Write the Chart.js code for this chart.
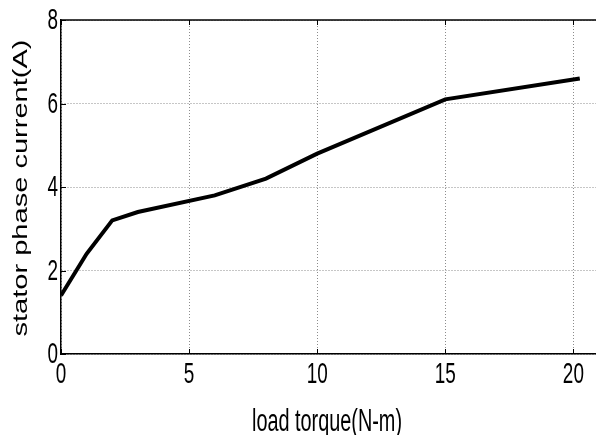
<!DOCTYPE html>
<html>
<head>
<meta charset="utf-8">
<script src="https://cdn.jsdelivr.net/npm/chart.js"></script>
<style>
    html, body { margin: 0; padding: 0; background: #fff; overflow: hidden; }
    #wrap { width: 600px; height: 435px; }
</style>
</head>
<body>
<div id="wrap"><canvas id="currentChart"></canvas></div>
<script>
// data
const torque = [0, 1, 2, 3, 6, 8, 10, 15, 20.25];
const statorCurrent = [1.4, 2.4, 3.2, 3.4, 3.8, 4.2, 4.8, 6.1, 6.6];
const xTicks = [0, 5, 10, 15, 20];
const yTicks = [0, 2, 4, 6, 8];
const xTitle = 'load torque(N-m)';
const yTitle = 'stator phase current(A)';

const sans = "'Liberation Sans', Arial, sans-serif";

// text squeezed or stretched sideways (the picture uses a narrow face)
function drawScaled(ctx, text, x, y, size, sx, align, baseline) {
    ctx.save();
    ctx.font = size + 'px ' + sans;
    ctx.textAlign = align;
    ctx.textBaseline = baseline;
    ctx.translate(x, y);
    ctx.scale(sx, 1);
    ctx.fillText(text, 0, 0);
    ctx.restore();
}

// frame, inner tick marks, tick labels and axis titles
const framePlugin = {
    id: 'frame',
    afterDraw(chart) {
        const ctx = chart.ctx;
        const a = chart.chartArea;
        const xs = chart.scales.x, ys = chart.scales.y;
        ctx.save();
        ctx.strokeStyle = '#000';
        ctx.lineWidth = 1.5;
        ctx.beginPath();
        ctx.moveTo(a.left, a.top);
        ctx.lineTo(a.right, a.top);
        ctx.stroke();

        ctx.lineWidth = 1;
        ctx.beginPath();
        xTicks.forEach(v => {
            const px = Math.round(xs.getPixelForValue(v)) + 0.5;
            ctx.moveTo(px, a.top); ctx.lineTo(px, a.top + 5);
            ctx.moveTo(px, a.bottom); ctx.lineTo(px, a.bottom - 5);
        });
        yTicks.forEach(v => {
            const py = Math.round(ys.getPixelForValue(v)) + 0.5;
            ctx.moveTo(a.left, py); ctx.lineTo(a.left + 5, py);
        });
        ctx.stroke();
        ctx.fillStyle = '#000';

        // tick labels
        xTicks.forEach(v => {
            drawScaled(ctx, String(v), xs.getPixelForValue(v), a.bottom + 21, 30, 0.63, 'center', 'middle');
        });
        yTicks.forEach(v => {
            drawScaled(ctx, String(v), a.left - 3, ys.getPixelForValue(v) + 1, 30, 0.63, 'right', 'middle');
        });

        // x title
        ctx.font = '31px ' + sans;
        const wx = ctx.measureText(xTitle).width;
        drawScaled(ctx, xTitle, 327, 431, 31, 150 / wx, 'center', 'alphabetic');

        // y title, stretched to the length it has in the picture
        ctx.font = '20px ' + sans;
        const wy = ctx.measureText(yTitle).width;
        ctx.translate(27, 188);
        ctx.rotate(-Math.PI / 2);
        ctx.scale(297 / wy, 1);
        ctx.textAlign = 'center';
        ctx.textBaseline = 'alphabetic';
        ctx.fillText(yTitle, 0, 0);
        ctx.restore();
    }
};

const ctx = document.getElementById('currentChart').getContext('2d');
const currentChart = new Chart(ctx, {
    type: 'line',
    data: {
        datasets: [{
            data: torque.map((t, i) => ({ x: t, y: statorCurrent[i] })),
            borderColor: '#000',
            borderWidth: 4,
            pointRadius: 0,
            tension: 0,
            fill: false
        }]
    },
    options: {
        responsive: true,
        maintainAspectRatio: false,
        animation: false,
        layout: { padding: { top: 20, right: 1, left: 0, bottom: 0 } },
        plugins: {
            legend: { display: false },
            tooltip: { enabled: false }
        },
        scales: {
            x: {
                type: 'linear',
                min: 0,
                max: 21,
                afterBuildTicks: s => { s.ticks = xTicks.map(v => ({ value: v })); },
                afterFit: s => { s.height = 81; },
                grid: { color: '#8c8c8c', lineWidth: 1, drawTicks: false },
                border: { color: '#000', width: 1.5, dash: [1, 2] },
                ticks: { display: false }
            },
            y: {
                min: 0,
                max: 8,
                afterBuildTicks: s => { s.ticks = yTicks.map(v => ({ value: v })); },
                afterFit: s => { s.width = 61; },
                grid: { color: '#8c8c8c', lineWidth: 1, drawTicks: false },
                border: { color: '#000', width: 1.5, dash: [1, 2] },
                ticks: { display: false }
            }
        }
    },
    plugins: [framePlugin]
});
</script>
</body>
</html>
